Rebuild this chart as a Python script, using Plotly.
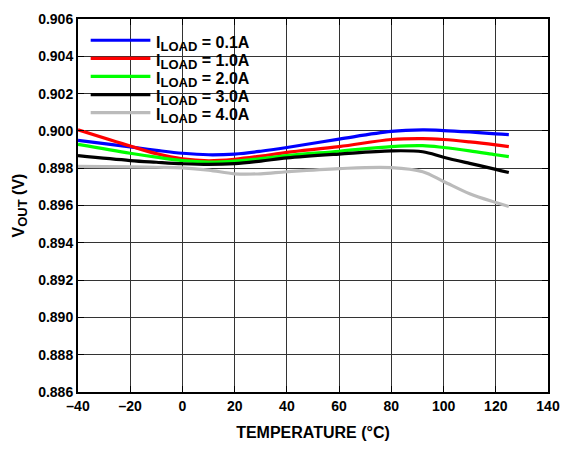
import plotly.graph_objects as go

# Output voltage vs junction temperature for several load currents
temp_c = [-40, -20, -10, 0, 10, 20, 30, 40, 60, 80, 92, 100, 110, 120, 125]

vout_01a = [0.89949, 0.89914, 0.89896, 0.89880, 0.89872, 0.89876, 0.89891, 0.89911, 0.89956, 0.89997, 0.90005, 0.90002, 0.89994, 0.89984, 0.89980]
vout_10a = [0.90006, 0.89919, 0.89878, 0.89850, 0.89840, 0.89848, 0.89865, 0.89885, 0.89916, 0.89954, 0.89959, 0.89954, 0.89941, 0.89925, 0.89916]
vout_20a = [0.89928, 0.89880, 0.89859, 0.89841, 0.89833, 0.89838, 0.89851, 0.89867, 0.89891, 0.89916, 0.89921, 0.89911, 0.89893, 0.89872, 0.89862]
vout_30a = [0.89867, 0.89841, 0.89832, 0.89824, 0.89820, 0.89824, 0.89838, 0.89855, 0.89876, 0.89893, 0.89888, 0.89859, 0.89826, 0.89794, 0.89777]
vout_40a = [0.89810, 0.89807, 0.89805, 0.89802, 0.89790, 0.89770, 0.89770, 0.89781, 0.89798, 0.89803, 0.89781, 0.89729, 0.89663, 0.89616, 0.89595]

series_names = ["0.1A", "1.0A", "2.0A", "3.0A", "4.0A"]
series_values = [vout_01a, vout_10a, vout_20a, vout_30a, vout_40a]
series_colors = ["#0000FF", "#FF0000", "#00FF00", "#000000", "#BBBBBB"]

x_ticks = [-40, -20, 0, 20, 40, 60, 80, 100, 120, 140]
x_tick_text = ["\u201340", "\u201320", "0", "20", "40", "60", "80", "100", "120", "140"]
y_ticks = [0.886, 0.888, 0.890, 0.892, 0.894, 0.896, 0.898, 0.900, 0.902, 0.904, 0.906]

FONT = "Liberation Sans, Arial, sans-serif"
SUB = "<sub><span style='font-size:13px'>{}</span></sub>"

fig = go.Figure()
for name, vals, col in zip(series_names, series_values, series_colors):
    fig.add_trace(go.Scatter(
        x=temp_c, y=vals, mode="lines", name=name,
        line=dict(color=col, width=3.2, shape="spline", smoothing=1.0),
        showlegend=False,
    ))

axis_common = dict(
    showline=True, linecolor="black", linewidth=2, mirror="ticks",
    showgrid=True, gridcolor="#333333", gridwidth=1.2,
    ticks="inside", ticklen=6, tickwidth=1.2, tickcolor="black",
    zeroline=False,
    tickfont=dict(family=FONT, size=14, color="black", weight="bold"),
)

fig.update_xaxes(
    range=[-40, 140], tickvals=x_ticks, ticktext=x_tick_text,
    title=dict(text="TEMPERATURE (\u00b0C)", standoff=14,
               font=dict(family=FONT, size=16, color="black", weight="bold")),
    **axis_common,
)
fig.update_yaxes(
    range=[0.886, 0.906], tickvals=y_ticks, tickformat=".3f",
    title=dict(text="V" + SUB.format("OUT") + " (V)", standoff=10,
               font=dict(family=FONT, size=16, color="black", weight="bold")),
    **axis_common,
)

# Legend panel: white box over the grid, line swatches and labels
shapes = [dict(type="rect", xref="paper", yref="paper", x0=0, x1=0.41, y0=0.714, y1=1,
               fillcolor="white", line=dict(width=0), layer="between")]
annotations = []
row_top, row_step = 0.943, 0.0485
for i, (name, col) in enumerate(zip(series_names, series_colors)):
    yy = row_top - i * row_step
    shapes.append(dict(type="line", xref="paper", yref="paper", x0=0.027, x1=0.154, y0=yy, y1=yy,
                       line=dict(color=col, width=3.2), layer="above"))
    annotations.append(dict(
        xref="paper", yref="paper", x=0.162, y=yy - 0.009, xanchor="left", yanchor="middle",
        text="I" + SUB.format("LOAD") + " = " + name, showarrow=False,
        font=dict(family=FONT, size=16, color="black", weight="bold"),
    ))

fig.update_layout(
    width=571, height=450,
    margin=dict(l=78, r=13, t=11, b=55),
    paper_bgcolor="white", plot_bgcolor="white",
    shapes=shapes, annotations=annotations,
)

fig.write_html("out.html")
